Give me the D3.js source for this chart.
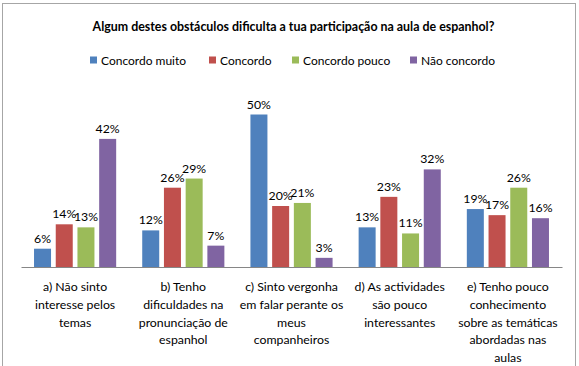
<!DOCTYPE html>
<html>
<head>
<meta charset="utf-8">
<script src="https://cdn.jsdelivr.net/npm/d3@7"></script>
<style>
  html, body { margin: 0; padding: 0; background: #fff; }
  svg { display: block; font-family: Lato, "Open Sans", sans-serif; }
</style>
</head>
<body>
<svg id="chart" width="579" height="366"></svg>
<script>
const title = "Algum destes obstáculos dificulta a tua participação na aula de espanhol?";
const categories = ["a", "b", "c", "d", "e"];
const categoryLabels = [
  ["a) Não sinto", "interesse pelos", "temas"],
  ["b) Tenho", "dificuldades na", "pronunciação de", "espanhol"],
  ["c) Sinto vergonha", "em falar perante os", "meus", "companheiros"],
  ["d) As actividades", "são pouco", "interessantes"],
  ["e) Tenho pouco", "conhecimento", "sobre as temáticas", "abordadas nas", "aulas"]
];
const seriesNames = ["Concordo muito", "Concordo", "Concordo pouco", "Não concordo"];
const concordoMuito = [6, 12, 50, 13, 19];
const concordo = [14, 26, 20, 23, 17];
const concordoPouco = [13, 29, 21, 11, 26];
const naoConcordo = [42, 7, 3, 32, 16];
const seriesValues = [concordoMuito, concordo, concordoPouco, naoConcordo];
const colors = ["#4F81BD", "#C0504D", "#9BBB59", "#8064A2"];

const svg = d3.select("#chart");

// outer border
svg.append("rect")
  .attr("x", 2.5).attr("y", 3.5).attr("width", 573).attr("height", 370)
  .attr("fill", "none").attr("stroke", "#a6a6a6").attr("stroke-width", 1);

// title
svg.append("text")
  .attr("x", 293.5).attr("y", 31)
  .attr("text-anchor", "middle")
  .attr("font-weight", "bold")
  .attr("font-size", 12.4)
  .attr("fill", "#000")
  .text(title);

// legend
const legendX = [90, 209, 292, 410];
const lg = svg.append("g");
seriesNames.forEach((name, i) => {
  const g = lg.append("g").attr("transform", `translate(${legendX[i]},60)`);
  g.append("rect").attr("x", 0).attr("y", -3.5).attr("width", 7).attr("height", 7).attr("fill", colors[i]);
  g.append("text").attr("x", 11).attr("y", 4.5).attr("font-size", 12).attr("fill", "#000").text(name);
});

// scales
const x0 = d3.scaleBand().domain(categories).range([21, 562]).paddingInner(0).paddingOuter(0);
const x1 = d3.scaleBand().domain(d3.range(seriesNames.length)).range([0, x0.bandwidth()])
  .paddingInner(0.217).paddingOuter(0.6);
const y = d3.scaleLinear().domain([0, 60]).range([267, 84]);

// bars
const groups = svg.append("g").selectAll("g")
  .data(categories)
  .join("g")
  .attr("transform", d => `translate(${x0(d)},0)`);

groups.each(function(cat, ci) {
  const g = d3.select(this);
  seriesValues.forEach((vals, si) => {
    const v = vals[ci];
    g.append("rect")
      .attr("x", x1(si))
      .attr("y", y(v))
      .attr("width", x1.bandwidth())
      .attr("height", y(0) - y(v))
      .attr("fill", colors[si]);
    g.append("text")
      .attr("x", x1(si) + x1.bandwidth() / 2)
      .attr("y", y(v) - 6)
      .attr("text-anchor", "middle")
      .attr("font-size", 12.3)
      .attr("fill", "#000")
      .text(v + "%");
  });
});

// x axis
const xAxis = d3.axisBottom(x0).tickSize(0).tickFormat("");
const ax = svg.append("g").attr("transform", `translate(0,${y(0)})`).call(xAxis);
ax.select(".domain").attr("stroke", "#868686").attr("stroke-width", 1);

// category labels
const catG = svg.append("g");
categories.forEach((c, i) => {
  const cx = x0(c) + x0.bandwidth() / 2;
  const t = catG.append("text")
    .attr("x", cx)
    .attr("y", 291)
    .attr("text-anchor", "middle")
    .attr("font-size", 12.3)
    .attr("fill", "#000");
  categoryLabels[i].forEach((line, li) => {
    t.append("tspan").attr("x", cx).attr("y", 291 + li * 17.8).text(line);
  });
});
</script>
</body>
</html>
